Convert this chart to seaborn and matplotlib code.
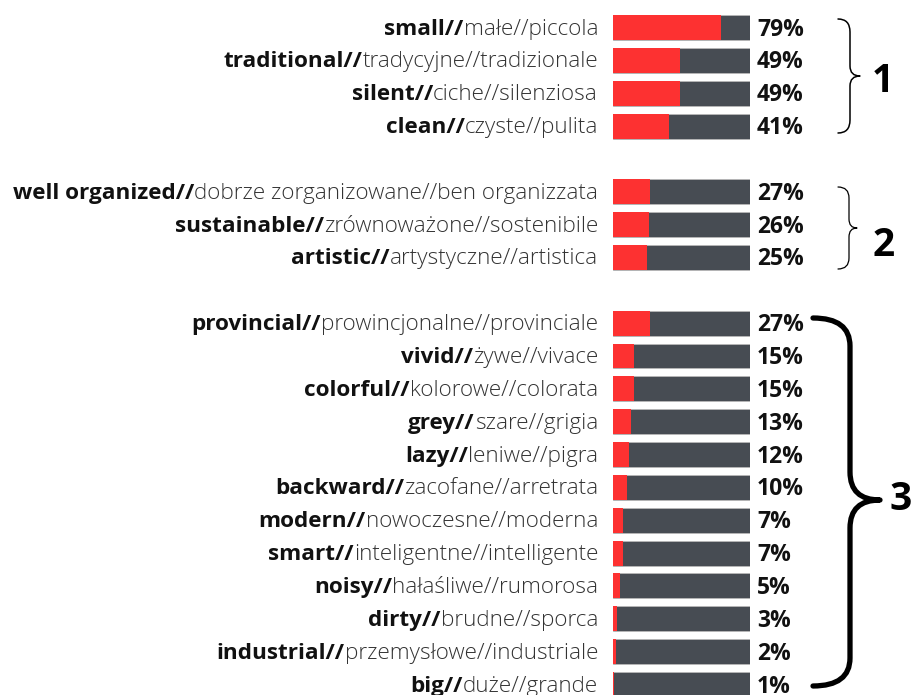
import matplotlib
matplotlib.use("Agg")
import matplotlib.pyplot as plt
from matplotlib.path import Path
from matplotlib.patches import PathPatch
import matplotlib.transforms as mtransforms
import seaborn as sns
import pandas as pd

# ---------------- data ----------------
english = [
    "small", "traditional", "silent", "clean",
    "well organized", "sustainable", "artistic",
    "provincial", "vivid", "colorful", "grey", "lazy", "backward",
    "modern", "smart", "noisy", "dirty", "industrial", "big",
]
polish = [
    "małe", "tradycyjne", "ciche", "czyste",
    "dobrze zorganizowane", "zrównoważone", "artystyczne",
    "prowincjonalne", "żywe", "kolorowe", "szare", "leniwe", "zacofane",
    "nowoczesne", "inteligentne", "hałaśliwe", "brudne", "przemysłowe", "duże",
]
italian = [
    "piccola", "tradizionale", "silenziosa", "pulita",
    "ben organizzata", "sostenibile", "artistica",
    "provinciale", "vivace", "colorata", "grigia", "pigra", "arretrata",
    "moderna", "intelligente", "rumorosa", "sporca", "industriale", "grande",
]
values = [79, 49, 49, 41,
          27, 26, 25,
          27, 15, 15, 13, 12, 10, 7, 7, 5, 3, 2, 1]
group_sizes = [4, 3, 12]
group_labels = ["1", "2", "3"]

# ---------------- layout ----------------
W, H = 916, 695
DPI = 100
RED = "#fd3131"
GREY = "#474c53"

# row positions: groups separated by one empty row
positions = []
p = 0
for gs in group_sizes:
    for _ in range(gs):
        positions.append(p)
        p += 1
    p += 1

df = pd.DataFrame({"pos": positions, "value": values,
                   "full": [100] * len(values)})

sns.set_theme(style="white")
plt.rcParams["font.family"] = ["Open Sans", "DejaVu Sans"]

fig = plt.figure(figsize=(W / DPI, H / DPI), dpi=DPI)
ax = fig.add_axes([613 / W, 0, 137 / W, 1])

sns.barplot(data=df, x="full", y="pos", orient="y", native_scale=True,
            color=GREY, width=0.76, saturation=1, edgecolor="#b8b8b8",
            linewidth=0.6, ax=ax)
sns.barplot(data=df, x="value", y="pos", orient="y", native_scale=True,
            color=RED, width=0.76, saturation=1, linewidth=0, ax=ax)

y0_px, pitch = 27.5, 32.85
ax.set_xlim(0, 100)
ax.set_ylim((H - y0_px) / pitch, -y0_px / pitch)
ax.axis("off")

fig.canvas.draw()
renderer = fig.canvas.get_renderer()
trans = mtransforms.blended_transform_factory(fig.transFigure, ax.transData)

FS = 16.2
for pos, en, pl, it, v in zip(positions, english, polish, italian, values):
    yb = pos + 7.0 / pitch
    light = ax.text(598 / W, yb, f"{pl}//{it}", transform=trans,
                    ha="right", va="baseline", fontsize=FS,
                    fontweight="light", color="#333333", clip_on=False)
    ext = light.get_window_extent(renderer)
    ax.text(ext.x0 / W, yb, f"{en}//", transform=trans, ha="right",
            va="baseline", fontsize=FS, fontweight="bold", color="#111111",
            clip_on=False)
    ax.text(757 / W, pos + 8.0 / pitch, f"{v}%", transform=trans,
            ha="left", va="baseline", fontsize=16.5, fontweight="bold",
            color="#111111", clip_on=False)


def brace(x0, xm, x1, ytop, ybot, ymid, r, rm, lw):
    pts = [(x0, ytop), (xm, ytop), (xm, ytop + r),
           (xm, ymid - rm), (xm, ymid), (x1, ymid),
           (xm, ymid), (xm, ymid + rm),
           (xm, ybot - r), (xm, ybot), (x0, ybot)]
    codes = [Path.MOVETO, Path.CURVE3, Path.CURVE3,
             Path.LINETO, Path.CURVE3, Path.CURVE3,
             Path.CURVE3, Path.CURVE3,
             Path.LINETO, Path.CURVE3, Path.CURVE3]
    pts = [(x / W, 1 - y / H) for x, y in pts]
    fig.patches.append(PathPatch(Path(pts, codes), fill=False, lw=lw,
                                 ec="black", capstyle="round",
                                 joinstyle="round",
                                 transform=fig.transFigure))


brace(838, 850, 860, 19, 133, 76, 13, 10, 1.1)
brace(838, 849, 857, 187, 269, 228, 11, 9, 0.9)
brace(813, 850, 880, 318, 686, 500, 28, 28, 3.8)

for lab, (x, y) in zip(group_labels, [(883, 82), (884, 245), (901, 500)]):
    fig.text(x / W, 1 - y / H, lab, ha="center", va="center", fontsize=28,
             fontweight="bold", color="black")

fig.savefig("out.png", dpi=DPI)
